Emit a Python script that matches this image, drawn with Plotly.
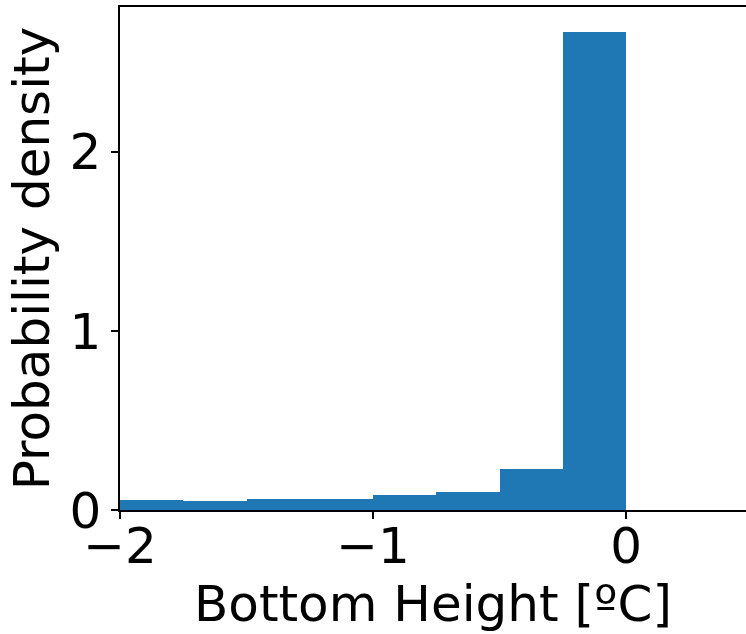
import plotly.graph_objects as go

bin_edges = [-2.0, -1.75, -1.5, -1.25, -1.0, -0.75, -0.5, -0.25, 0.0]
density = [0.056, 0.050, 0.062, 0.062, 0.084, 0.100, 0.230, 2.67]

centers = [(a + b) / 2 for a, b in zip(bin_edges[:-1], bin_edges[1:])]
widths = [b - a for a, b in zip(bin_edges[:-1], bin_edges[1:])]

fig = go.Figure(go.Bar(x=centers, y=density, width=widths,
                       marker=dict(color="#1f77b4", line=dict(width=0))))

font = dict(family="DejaVu Sans", size=50, color="black")
fig.update_layout(
    width=746, height=634,
    margin=dict(l=120, r=0, t=7, b=124),
    plot_bgcolor="white", paper_bgcolor="white",
    font=font, showlegend=False, bargap=0,
)
fig.update_xaxes(range=[-2, 0.474], tickvals=[-2, -1, 0], ticktext=["−2", "−1", "0"],
                 automargin=False, ticklabelstandoff=-16,
                 showgrid=False, zeroline=False, showline=True, linecolor="black", linewidth=1.5,
                 mirror=True, ticks="outside", ticklen=7, tickwidth=1.5, tickcolor="black",
                 tickfont=font, title=dict(text="Bottom Height [ºC]", font=font, standoff=4))
fig.update_yaxes(range=[0, 2.81], tickvals=[0, 1, 2],
                 automargin=False,
                 showgrid=False, zeroline=False, showline=True, linecolor="black", linewidth=1.5,
                 mirror=False, ticks="outside", ticklen=7, tickwidth=1.5, tickcolor="black",
                 tickfont=font, title=dict(text="Probability density", font=font, standoff=4))
fig.write_html("out.html", config={"displayModeBar": False},
               post_script="document.body.style.margin='0';document.body.style.overflow='hidden';")
